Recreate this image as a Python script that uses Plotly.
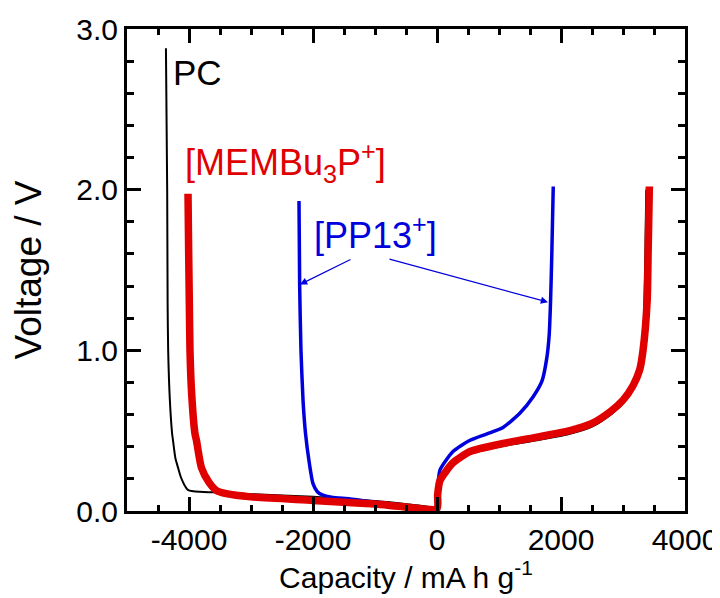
import plotly.graph_objects as go

# ---- data ----
pc_cap = [-4372, -4352, -4345, -4336, -4310, -4272, -4258, -4220, -4177, -4135, -4097, -4060, -4030, -3990,
          -3900, -3600, -3000, -2000, -1000, -548, -200, 0,
          0, 15, 60, 258, 532, 1065, 1613, 2145, 2500, 2800, 3000, 3150, 3260, 3320, 3345, 3360, 3375]
pc_v = [2.88, 2.0, 1.3, 1.0, 0.7, 0.48, 0.44, 0.33, 0.27, 0.215, 0.18, 0.152, 0.136, 0.127,
        0.122, 0.116, 0.105, 0.088, 0.062, 0.045, 0.03, 0.01,
        0.0, 0.10, 0.17, 0.285, 0.355, 0.405, 0.44, 0.48, 0.525, 0.60, 0.67, 0.76, 0.87, 1.0, 1.31, 1.6, 2.0]

memb_cap = [-4016, -4005, -3995, -3984, -3960, -3903, -3880, -3800, -3680, -3548, -3400, -3000, -2000,
            -1000, -548, 0,
            10, 48, 258, 532, 1065, 1613, 2145, 2500, 2800, 3000, 3161, 3270, 3323, 3390, 3405, 3425]
memb_v = [1.975, 1.6, 1.3, 1.0, 0.75, 0.48, 0.44, 0.27, 0.18, 0.125, 0.108, 0.088, 0.066,
          0.043, 0.027, 0.015,
          0.10, 0.19, 0.30, 0.37, 0.42, 0.46, 0.50, 0.545, 0.62, 0.69, 0.78, 0.88, 1.0, 1.31, 1.6, 2.02]

pp13_cap = [-2226, -2215, -2194, -2161, -2120, -2060, -2000, -1930, -1850, -1700, -1400, -1000, -500, 0,
            15, 48, 258, 532, 806, 1065, 1339, 1548, 1694, 1770, 1810, 1832, 1852, 1875]
pp13_v = [1.93, 1.4, 1.0, 0.69, 0.48, 0.30, 0.17, 0.12, 0.10, 0.085, 0.075, 0.055, 0.035, 0.015,
          0.15, 0.255, 0.37, 0.44, 0.48, 0.52, 0.61, 0.71, 0.81, 0.95, 1.1, 1.31, 1.6, 2.02]

x_tickvals = [-4000, -2000, 0, 2000, 4000]
x_ticktext = ["-4000", "-2000", "0", "2000", "4000"]
y_tickvals = [0, 1, 2, 3]
y_ticktext = ["0.0", "1.0", "2.0", "3.0"]

BLACK = "#000000"
RED = "#e00000"
BLUE = "#0000dd"
FONT = "Liberation Sans, Arial, sans-serif"

fig = go.Figure()
fig.add_trace(go.Scatter(x=pc_cap, y=pc_v, mode="lines", name="PC",
                         line=dict(color=BLACK, width=2, shape="spline", smoothing=0.6)))
fig.add_trace(go.Scatter(x=pp13_cap, y=pp13_v, mode="lines", name="[PP13+]",
                         line=dict(color=BLUE, width=3.5, shape="spline", smoothing=0.6)))
fig.add_trace(go.Scatter(x=memb_cap, y=memb_v, mode="lines", name="[MEMBu3P+]",
                         line=dict(color=RED, width=7.5, shape="spline", smoothing=0.6)))

axis_common = dict(
    showline=True, linecolor="black", linewidth=3, mirror="allticks",
    ticks="inside", ticklen=14, tickwidth=3, tickcolor="black",
    showgrid=False, zeroline=False,
    tickfont=dict(family=FONT, size=30, color="black"),
)

fig.update_xaxes(
    range=[-5000, 4000], tickmode="array", tickvals=x_tickvals, ticktext=x_ticktext,
    minor=dict(dtick=500, ticks="inside", ticklen=6, tickwidth=2.5, tickcolor="black", showgrid=False),
    title=dict(text="Capacity / mA h g<sup>-1</sup>", font=dict(family=FONT, size=30, color="black"), standoff=6),
    **axis_common,
)
fig.update_yaxes(
    range=[0, 3], tickmode="array", tickvals=y_tickvals, ticktext=y_ticktext,
    minor=dict(dtick=0.2, ticks="inside", ticklen=7, tickwidth=2.5, tickcolor="black", showgrid=False),
    title=dict(text="Voltage / V", font=dict(family=FONT, size=37, color="black"), standoff=24),
    **axis_common,
)

fig.add_annotation(x=-4290, y=2.73, xref="x", yref="y", text="PC", showarrow=False,
                   xanchor="left", yanchor="middle", font=dict(family=FONT, size=35, color=BLACK))
fig.add_annotation(x=-4100, y=2.17, xref="x", yref="y", text="[MEMBu<sub>3</sub>P<sup>+</sup>]",
                   showarrow=False, xanchor="left", yanchor="middle",
                   font=dict(family=FONT, size=36, color=RED))
fig.add_annotation(x=-2010, y=1.73, xref="x", yref="y", text="[PP13<sup>+</sup>]",
                   showarrow=False, xanchor="left", yanchor="middle",
                   font=dict(family=FONT, size=36, color=BLUE))
# arrows
fig.add_annotation(x=-2210, y=1.41, ax=-1371, ay=1.57, xref="x", yref="y", axref="x", ayref="y",
                   text="", showarrow=True, arrowhead=2, arrowsize=1.2, arrowwidth=1.2, arrowcolor=BLUE)
fig.add_annotation(x=1790, y=1.30, ax=-790, ay=1.57, xref="x", yref="y", axref="x", ayref="y",
                   text="", showarrow=True, arrowhead=2, arrowsize=1.2, arrowwidth=1.2, arrowcolor=BLUE)

# page body has an 8px default margin, so the figure is drawn 8px smaller
fig.update_layout(
    width=712, height=590,
    margin=dict(l=119, r=35, t=21, b=87, autoexpand=False),
    plot_bgcolor="white", paper_bgcolor="white",
    showlegend=False,
    font=dict(family=FONT, color="black"),
)

fig.write_html("out.html")
